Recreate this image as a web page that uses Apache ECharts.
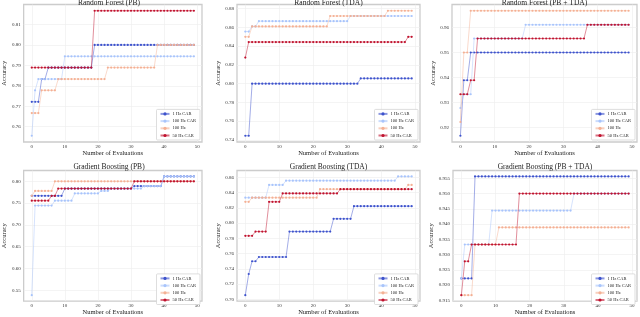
<!DOCTYPE html>
<html>
<head>
<meta charset="utf-8">
<script src="https://cdn.jsdelivr.net/npm/echarts@6/dist/echarts.min.js"></script>
<style>html,body{margin:0;padding:0;background:#fff;}#c{width:640px;height:317px;}</style>
</head>
<body>
<div id="c"></div>
<script>
// ---- data ----
const seriesNames = ['1 Hz CAR', '100 Hz CAR', '100 Hz', '50 Hz CAR'];
const panelTitles = ['Random Forest (PB)', 'Random Forest (TDA)', 'Random Forest (PB + TDA)',
                     'Gradient Boosting (PB)', 'Gradient Boosting (TDA)', 'Gradient Boosting (PB + TDA)'];
const xTicks = [0, 10, 20, 30, 40, 50];
const yTicksP1 = [0.76, 0.77, 0.78, 0.79, 0.80, 0.81];
const yTicksP2 = [0.74, 0.76, 0.78, 0.80, 0.82, 0.84, 0.86, 0.88];
const yTicksP3 = [0.92, 0.93, 0.94, 0.95, 0.96];
const yTicksP4 = [0.55, 0.60, 0.65, 0.70, 0.75, 0.80];
const yTicksP5 = [0.70, 0.72, 0.74, 0.76, 0.78, 0.80, 0.82, 0.84, 0.86];
const yTicksP6 = [0.915, 0.920, 0.925, 0.930, 0.935, 0.940, 0.945, 0.950, 0.955];

// Random Forest (PB)
const rfPB_1Hz = [0.7722,0.7722,0.7722,0.7833,0.7833,0.7889,0.7889,0.7889,0.7889,0.7889,0.7889,0.7889,0.7889,0.7889,0.7889,0.7889,0.7889,0.7889,0.7889,0.8000,0.8000,0.8000,0.8000,0.8000,0.8000,0.8000,0.8000,0.8000,0.8000,0.8000,0.8000,0.8000,0.8000,0.8000,0.8000,0.8000,0.8000,0.8000,0.8000,0.8000,0.8000,0.8000,0.8000,0.8000,0.8000,0.8000,0.8000,0.8000,0.8000,0.8000];
const rfPB_100CAR = [0.7556,0.7778,0.7833,0.7833,0.7833,0.7833,0.7833,0.7833,0.7833,0.7833,0.7944,0.7944,0.7944,0.7944,0.7944,0.7944,0.7944,0.7944,0.7944,0.7944,0.7944,0.7944,0.7944,0.7944,0.7944,0.7944,0.7944,0.7944,0.7944,0.7944,0.7944,0.7944,0.7944,0.7944,0.7944,0.7944,0.7944,0.7944,0.7944,0.7944,0.7944,0.7944,0.7944,0.7944,0.7944,0.7944,0.7944,0.7944,0.7944,0.7944];
const rfPB_100Hz = [0.7667,0.7667,0.7667,0.7778,0.7778,0.7778,0.7778,0.7778,0.7833,0.7833,0.7833,0.7833,0.7833,0.7833,0.7833,0.7833,0.7833,0.7833,0.7833,0.7833,0.7833,0.7833,0.7833,0.7889,0.7889,0.7889,0.7889,0.7889,0.7889,0.7889,0.7889,0.7889,0.7889,0.7889,0.7889,0.7889,0.7889,0.7889,0.8000,0.8000,0.8000,0.8000,0.8000,0.8000,0.8000,0.8000,0.8000,0.8000,0.8000,0.8000];
const rfPB_50CAR = [0.7889,0.7889,0.7889,0.7889,0.7889,0.7889,0.7889,0.7889,0.7889,0.7889,0.7889,0.7889,0.7889,0.7889,0.7889,0.7889,0.7889,0.7889,0.7889,0.8167,0.8167,0.8167,0.8167,0.8167,0.8167,0.8167,0.8167,0.8167,0.8167,0.8167,0.8167,0.8167,0.8167,0.8167,0.8167,0.8167,0.8167,0.8167,0.8167,0.8167,0.8167,0.8167,0.8167,0.8167,0.8167,0.8167,0.8167,0.8167,0.8167,0.8167];

// Random Forest (TDA)
const rfTDA_1Hz = [0.7444,0.7444,0.8000,0.8000,0.8000,0.8000,0.8000,0.8000,0.8000,0.8000,0.8000,0.8000,0.8000,0.8000,0.8000,0.8000,0.8000,0.8000,0.8000,0.8000,0.8000,0.8000,0.8000,0.8000,0.8000,0.8000,0.8000,0.8000,0.8000,0.8000,0.8000,0.8000,0.8000,0.8000,0.8056,0.8056,0.8056,0.8056,0.8056,0.8056,0.8056,0.8056,0.8056,0.8056,0.8056,0.8056,0.8056,0.8056,0.8056,0.8056];
const rfTDA_100CAR = [0.8556,0.8556,0.8611,0.8611,0.8667,0.8667,0.8667,0.8667,0.8667,0.8667,0.8667,0.8667,0.8667,0.8667,0.8667,0.8667,0.8667,0.8667,0.8667,0.8667,0.8667,0.8667,0.8667,0.8667,0.8667,0.8667,0.8667,0.8667,0.8667,0.8667,0.8667,0.8722,0.8722,0.8722,0.8722,0.8722,0.8722,0.8722,0.8722,0.8722,0.8722,0.8722,0.8722,0.8722,0.8722,0.8722,0.8722,0.8722,0.8722,0.8722];
const rfTDA_100Hz = [0.8500,0.8500,0.8611,0.8611,0.8611,0.8611,0.8611,0.8611,0.8611,0.8611,0.8611,0.8611,0.8611,0.8611,0.8611,0.8611,0.8611,0.8611,0.8611,0.8611,0.8611,0.8611,0.8611,0.8611,0.8611,0.8722,0.8722,0.8722,0.8722,0.8722,0.8722,0.8722,0.8722,0.8722,0.8722,0.8722,0.8722,0.8722,0.8722,0.8722,0.8722,0.8722,0.8778,0.8778,0.8778,0.8778,0.8778,0.8778,0.8778,0.8778];
const rfTDA_50CAR = [0.8278,0.8444,0.8444,0.8444,0.8444,0.8444,0.8444,0.8444,0.8444,0.8444,0.8444,0.8444,0.8444,0.8444,0.8444,0.8444,0.8444,0.8444,0.8444,0.8444,0.8444,0.8444,0.8444,0.8444,0.8444,0.8444,0.8444,0.8444,0.8444,0.8444,0.8444,0.8444,0.8444,0.8444,0.8444,0.8444,0.8444,0.8444,0.8444,0.8444,0.8444,0.8444,0.8444,0.8444,0.8444,0.8444,0.8444,0.8444,0.8500,0.8500];

// Random Forest (PB + TDA)
const rfBoth_1Hz = [0.9167,0.9389,0.9389,0.9500,0.9500,0.9500,0.9500,0.9500,0.9500,0.9500,0.9500,0.9500,0.9500,0.9500,0.9500,0.9500,0.9500,0.9500,0.9500,0.9500,0.9500,0.9500,0.9500,0.9500,0.9500,0.9500,0.9500,0.9500,0.9500,0.9500,0.9500,0.9500,0.9500,0.9500,0.9500,0.9500,0.9500,0.9500,0.9500,0.9500,0.9500,0.9500,0.9500,0.9500,0.9500,0.9500,0.9500,0.9500,0.9500,0.9500];
const rfBoth_100CAR = [0.9278,0.9333,0.9333,0.9333,0.9556,0.9556,0.9556,0.9556,0.9556,0.9556,0.9556,0.9556,0.9556,0.9556,0.9556,0.9556,0.9556,0.9556,0.9556,0.9611,0.9611,0.9611,0.9611,0.9611,0.9611,0.9611,0.9611,0.9611,0.9611,0.9611,0.9611,0.9611,0.9611,0.9611,0.9611,0.9611,0.9611,0.9611,0.9611,0.9611,0.9611,0.9611,0.9611,0.9611,0.9611,0.9611,0.9611,0.9611,0.9611,0.9611];
const rfBoth_100Hz = [0.9222,0.9500,0.9500,0.9667,0.9667,0.9667,0.9667,0.9667,0.9667,0.9667,0.9667,0.9667,0.9667,0.9667,0.9667,0.9667,0.9667,0.9667,0.9667,0.9667,0.9667,0.9667,0.9667,0.9667,0.9667,0.9667,0.9667,0.9667,0.9667,0.9667,0.9667,0.9667,0.9667,0.9667,0.9667,0.9667,0.9667,0.9667,0.9667,0.9667,0.9667,0.9667,0.9667,0.9667,0.9667,0.9667,0.9667,0.9667,0.9667,0.9667];
const rfBoth_50CAR = [0.9333,0.9333,0.9333,0.9389,0.9389,0.9556,0.9556,0.9556,0.9556,0.9556,0.9556,0.9556,0.9556,0.9556,0.9556,0.9556,0.9556,0.9556,0.9556,0.9556,0.9556,0.9556,0.9556,0.9556,0.9556,0.9556,0.9556,0.9556,0.9556,0.9556,0.9556,0.9556,0.9556,0.9556,0.9556,0.9556,0.9556,0.9611,0.9611,0.9611,0.9611,0.9611,0.9611,0.9611,0.9611,0.9611,0.9611,0.9611,0.9611,0.9611];

// Gradient Boosting (PB)
const gbPB_1Hz = [0.7667,0.7667,0.7667,0.7667,0.7667,0.7667,0.7667,0.7667,0.7667,0.7667,0.7833,0.7833,0.7833,0.7833,0.7833,0.7833,0.7833,0.7833,0.7833,0.7833,0.7833,0.7833,0.7833,0.7833,0.7833,0.7833,0.7833,0.7833,0.7833,0.7833,0.7833,0.7889,0.7889,0.7889,0.7889,0.7889,0.7889,0.7889,0.7889,0.7889,0.8111,0.8111,0.8111,0.8111,0.8111,0.8111,0.8111,0.8111,0.8111,0.8111];
const gbPB_100CAR = [0.5389,0.7444,0.7444,0.7444,0.7444,0.7444,0.7444,0.7556,0.7556,0.7556,0.7556,0.7556,0.7556,0.7722,0.7722,0.7722,0.7722,0.7722,0.7722,0.7722,0.7722,0.7778,0.7778,0.7778,0.7833,0.7833,0.7833,0.7833,0.7833,0.7833,0.7833,0.7833,0.7833,0.7833,0.7889,0.7889,0.7889,0.7889,0.7889,0.7889,0.8111,0.8111,0.8111,0.8111,0.8111,0.8111,0.8111,0.8111,0.8111,0.8111];
const gbPB_100Hz = [0.7667,0.7778,0.7778,0.7778,0.7778,0.7778,0.7778,0.8000,0.8000,0.8000,0.8000,0.8000,0.8000,0.8000,0.8000,0.8000,0.8000,0.8000,0.8000,0.8000,0.8000,0.8000,0.8000,0.8000,0.8000,0.8000,0.8000,0.8000,0.8000,0.8000,0.8000,0.8000,0.8000,0.8000,0.8000,0.8000,0.8000,0.8000,0.8000,0.8000,0.8000,0.8000,0.8000,0.8000,0.8000,0.8000,0.8000,0.8000,0.8000,0.8000];
const gbPB_50CAR = [0.7556,0.7556,0.7556,0.7556,0.7556,0.7556,0.7667,0.7667,0.7833,0.7833,0.7833,0.7833,0.7833,0.7833,0.7833,0.7833,0.7833,0.7833,0.7833,0.7833,0.7833,0.7833,0.7833,0.7833,0.7833,0.7833,0.7833,0.7833,0.7833,0.7833,0.7833,0.8000,0.8000,0.8000,0.8000,0.8000,0.8000,0.8000,0.8000,0.8000,0.8000,0.8000,0.8000,0.8000,0.8000,0.8000,0.8000,0.8000,0.8000,0.8000];

// Gradient Boosting (TDA)
const gbTDA_1Hz = [0.7056,0.7333,0.7500,0.7500,0.7556,0.7556,0.7556,0.7556,0.7556,0.7556,0.7556,0.7556,0.7556,0.7889,0.7889,0.7889,0.7889,0.7889,0.7889,0.7889,0.7889,0.7889,0.7889,0.7889,0.7889,0.7889,0.8056,0.8056,0.8056,0.8056,0.8056,0.8056,0.8222,0.8222,0.8222,0.8222,0.8222,0.8222,0.8222,0.8222,0.8222,0.8222,0.8222,0.8222,0.8222,0.8222,0.8222,0.8222,0.8222,0.8222];
const gbTDA_100CAR = [0.8333,0.8333,0.8333,0.8333,0.8333,0.8333,0.8333,0.8500,0.8500,0.8500,0.8500,0.8500,0.8556,0.8556,0.8556,0.8556,0.8556,0.8556,0.8556,0.8556,0.8556,0.8556,0.8556,0.8556,0.8556,0.8556,0.8556,0.8556,0.8556,0.8556,0.8556,0.8556,0.8556,0.8556,0.8556,0.8556,0.8556,0.8556,0.8556,0.8556,0.8556,0.8556,0.8556,0.8556,0.8556,0.8611,0.8611,0.8611,0.8611,0.8611];
const gbTDA_100Hz = [0.8278,0.8278,0.8333,0.8333,0.8333,0.8333,0.8333,0.8333,0.8333,0.8333,0.8333,0.8333,0.8333,0.8333,0.8333,0.8333,0.8333,0.8333,0.8333,0.8333,0.8333,0.8333,0.8444,0.8444,0.8444,0.8444,0.8444,0.8444,0.8444,0.8444,0.8444,0.8444,0.8444,0.8444,0.8444,0.8444,0.8444,0.8444,0.8444,0.8444,0.8444,0.8444,0.8444,0.8444,0.8444,0.8444,0.8444,0.8444,0.8500,0.8500];
const gbTDA_50CAR = [0.7833,0.7833,0.7833,0.7889,0.7889,0.7889,0.7889,0.8278,0.8278,0.8278,0.8278,0.8389,0.8389,0.8389,0.8389,0.8389,0.8389,0.8389,0.8389,0.8389,0.8389,0.8389,0.8389,0.8389,0.8389,0.8389,0.8389,0.8389,0.8444,0.8444,0.8444,0.8444,0.8444,0.8444,0.8444,0.8444,0.8444,0.8444,0.8444,0.8444,0.8444,0.8444,0.8444,0.8444,0.8444,0.8444,0.8444,0.8444,0.8444,0.8444];

// Gradient Boosting (PB + TDA)
const gbBoth_1Hz = [0.9222,0.9222,0.9222,0.9222,0.9556,0.9556,0.9556,0.9556,0.9556,0.9556,0.9556,0.9556,0.9556,0.9556,0.9556,0.9556,0.9556,0.9556,0.9556,0.9556,0.9556,0.9556,0.9556,0.9556,0.9556,0.9556,0.9556,0.9556,0.9556,0.9556,0.9556,0.9556,0.9556,0.9556,0.9556,0.9556,0.9556,0.9556,0.9556,0.9556,0.9556,0.9556,0.9556,0.9556,0.9556,0.9556,0.9556,0.9556,0.9556,0.9556];
const gbBoth_100CAR = [0.9222,0.9333,0.9333,0.9333,0.9333,0.9333,0.9333,0.9333,0.9333,0.9444,0.9444,0.9444,0.9444,0.9444,0.9444,0.9444,0.9444,0.9444,0.9444,0.9444,0.9444,0.9444,0.9444,0.9444,0.9444,0.9444,0.9444,0.9444,0.9444,0.9444,0.9444,0.9444,0.9444,0.9500,0.9500,0.9500,0.9500,0.9500,0.9500,0.9500,0.9500,0.9500,0.9500,0.9500,0.9500,0.9500,0.9500,0.9500,0.9500,0.9500];
const gbBoth_100Hz = [0.9167,0.9167,0.9167,0.9167,0.9333,0.9333,0.9333,0.9333,0.9333,0.9333,0.9333,0.9389,0.9389,0.9389,0.9389,0.9389,0.9389,0.9389,0.9389,0.9389,0.9389,0.9389,0.9389,0.9389,0.9389,0.9389,0.9389,0.9389,0.9389,0.9389,0.9389,0.9389,0.9389,0.9389,0.9389,0.9389,0.9389,0.9389,0.9389,0.9389,0.9389,0.9389,0.9389,0.9389,0.9389,0.9389,0.9389,0.9389,0.9389,0.9389];
const gbBoth_50CAR = [0.9167,0.9278,0.9278,0.9333,0.9333,0.9333,0.9333,0.9333,0.9333,0.9333,0.9333,0.9333,0.9333,0.9333,0.9333,0.9333,0.9333,0.9500,0.9500,0.9500,0.9500,0.9500,0.9500,0.9500,0.9500,0.9500,0.9500,0.9500,0.9500,0.9500,0.9500,0.9500,0.9500,0.9500,0.9500,0.9500,0.9500,0.9500,0.9500,0.9500,0.9500,0.9500,0.9500,0.9500,0.9500,0.9500,0.9500,0.9500,0.9500,0.9500];

// ---- layout / style ----
const FONT = '"Liberation Serif", "DejaVu Serif", serif';
const colors = ['#3d52cc', '#a8c4fb', '#f4b094', '#c0122e'];
const panels = [
  {data:[rfPB_1Hz, rfPB_100CAR, rfPB_100Hz, rfPB_50CAR], ticks:yTicksP1, dec:2, box:[16,4.5,186,137.5], gap:10},
  {data:[rfTDA_1Hz, rfTDA_100CAR, rfTDA_100Hz, rfTDA_50CAR], ticks:yTicksP2, dec:2, box:[237,4.5,183,137.5], gap:13},
  {data:[rfBoth_1Hz, rfBoth_100CAR, rfBoth_100Hz, rfBoth_50CAR], ticks:yTicksP3, dec:2, box:[452,4.5,185,137.5], gap:11},
  {data:[gbPB_1Hz, gbPB_100CAR, gbPB_100Hz, gbPB_50CAR], ticks:yTicksP4, dec:2, box:[16,170.5,186,136], gap:10},
  {data:[gbTDA_1Hz, gbTDA_100CAR, gbTDA_100Hz, gbTDA_50CAR], ticks:yTicksP5, dec:2, box:[237,170.5,183,136], gap:11},
  {data:[gbBoth_1Hz, gbBoth_100CAR, gbBoth_100Hz, gbBoth_50CAR], ticks:yTicksP6, dec:3, box:[453,170.5,184,136], gap:12}
];

const grid = [], xAxis = [], yAxis = [], series = [], legend = [], graphic = [];
panels.forEach((p, i) => {
  const [l, t, w, h] = p.box;
  grid.push({left:l, top:t, width:w, height:h, show:true, borderColor:'#cccccc', borderWidth:1.3, backgroundColor:'#fff', containLabel:false});
  let lo = Infinity, hi = -Infinity;
  p.data.forEach(arr => arr.forEach(v => { lo = Math.min(lo, v); hi = Math.max(hi, v); }));
  const m = (hi - lo) * 0.05;
  const n = p.data[0].length;
  xAxis.push({
    type:'value', gridIndex:i, min:-0.05*(n-1), max:(n-1)*1.05,
    axisLine:{show:false}, axisTick:{show:false, customValues:xTicks},
    axisLabel:{customValues:xTicks, fontFamily:FONT, fontSize:5, color:'#333', margin:2},
    splitLine:{show:true, lineStyle:{color:'#ececec', width:0.6}},
    name:'Number of Evaluations', nameLocation:'middle', nameGap:6,
    nameTextStyle:{fontFamily:FONT, fontSize:6.5, color:'#222'}
  });
  yAxis.push({
    type:'value', gridIndex:i, min:lo - m, max:hi + m,
    axisLine:{show:false}, axisTick:{show:false, customValues:p.ticks},
    axisLabel:{customValues:p.ticks, fontFamily:FONT, fontSize:5, color:'#333', margin:3,
               formatter:v => v.toFixed(p.dec)},
    splitLine:{show:true, lineStyle:{color:'#ececec', width:0.6}},
    name:'Accuracy', nameLocation:'middle', nameGap:p.gap,
    nameTextStyle:{fontFamily:FONT, fontSize:6.5, color:'#222'}
  });
  p.data.forEach((arr, k) => {
    series.push({
      type:'line', name:seriesNames[k], xAxisIndex:i, yAxisIndex:i,
      data:arr.map((v, j) => [j, v]),
      symbol:'circle', symbolSize:2.2, showSymbol:true,
      lineStyle:{width:0.8, color:colors[k], opacity:0.6},
      itemStyle:{color:colors[k]},
      silent:true, animation:false, z:2+k
    });
  });
  legend.push({
    data:seriesNames, orient:'vertical', selectedMode:false,
    right:640 - (l + w) + 2, bottom:317 - (t + h) + 2,
    backgroundColor:'#fff', borderColor:'#d0d0d0', borderWidth:0.7, borderRadius:1,
    padding:[2,4,2,3], itemWidth:9, itemHeight:4, itemGap:2.2,
    textStyle:{fontFamily:FONT, fontSize:4.5, color:'#222', padding:[0,0,0,-2]}
  });
  graphic.push({type:'text', x:l + w/2, y:(i < 3 ? 3 : 167),
    style:{text:panelTitles[i], fontFamily:FONT, fontSize:7.5, fill:'#222', align:'center', verticalAlign:'middle'}});
});

const chart = echarts.init(document.getElementById('c'), null, {renderer:'canvas'});
chart.setOption({animation:false, backgroundColor:'#fff', grid, xAxis, yAxis, series, legend, graphic});
</script>
</body>
</html>
